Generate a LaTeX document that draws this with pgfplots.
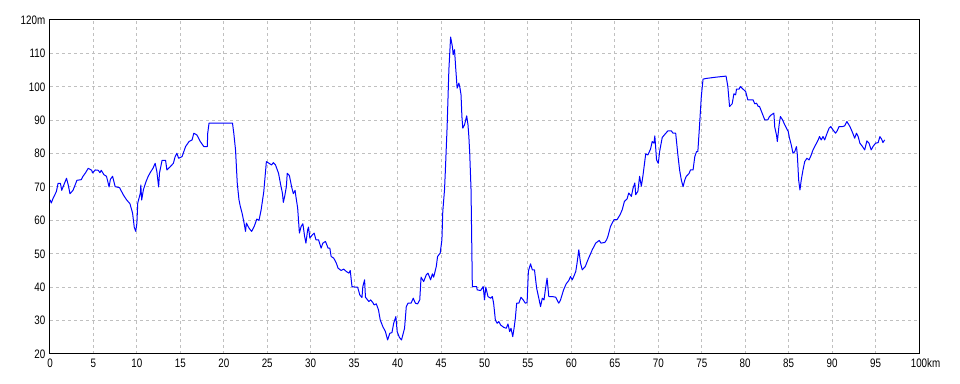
\documentclass[border=0pt]{standalone}
\usepackage{fontspec}
\setmainfont{Liberation Sans}[FakeStretch=0.8]
\usepackage{pgfplots}
\pgfplotsset{compat=1.18}
\definecolor{gridgray}{RGB}{192,192,192}
\begin{document}
\begin{tikzpicture}[x=1pt,y=1pt]
\useasboundingbox (-37.5,-22.5) rectangle (682.5,265.5);
\begin{axis}[
  at={(0,0)}, anchor=south west,
  scale only axis, width=651.75pt, height=250.5pt,
  xmin=0, xmax=100, ymin=20, ymax=120,
  xtick={0,5,...,100}, ytick={20,30,...,120},
  xticklabels={0,5,10,15,20,25,30,35,40,45,50,55,60,65,70,75,80,85,90,95,100\rlap{km}},
  yticklabels={20,30,40,50,60,70,80,90,100,110,120m},
  major tick length=0pt,
  ticklabel style={font=\fontsize{9.2}{10}\selectfont},
  /pgf/number format/assume math mode=true,
  grid=major,
  grid style={gridgray, line width=0.75pt, dash pattern=on 2.25pt off 2.25pt},
  axis line style={black, line width=0.75pt},
]
\addplot[blue, line width=0.75pt, line join=round] coordinates {
(0,66.2)(0.15,65.2)(0.35,66.6)(0.73,68.6)(0.93,71.1)(1.2,71.1)(1.35,69)(1.5,70)(1.7,71.3)(1.9,72.6)(2.1,70.6)(2.3,68)(2.65,69)(3.1,72)(3.6,72.2)(3.8,73.2)(4.1,74.3)(4.4,75.6)(4.8,75)(4.9,74.2)(5.2,75.1)(5.55,75)(5.75,74.3)(5.9,75)(6.2,73.7)(6.5,73.2)(6.7,71.1)(6.8,70)(6.95,72.3)(7.2,73.2)(7.5,70.1)(8,69.8)(8.45,67.6)(8.8,66.2)(9.2,65)(9.5,62.2)(9.7,57.9)(9.87,56.7)(10.0,59.2)(10.1,65.2)(10.4,68.2)(10.45,70.6)(10.55,66.1)(10.75,69.2)(11.05,71.6)(11.3,73.2)(11.6,74.6)(11.85,75.6)(12.1,77.1)(12.3,74.6)(12.5,70)(12.6,74.2)(12.9,78)(13.3,78)(13.45,75.1)(13.85,76.1)(14.2,77.1)(14.4,79.1)(14.6,80.1)(14.8,78.6)(15.2,79.1)(15.6,82.1)(16,83.6)(16.35,84.1)(16.55,86.1)(16.9,85.6)(17.3,83.6)(17.7,82.1)(18.1,82.1)(18.15,86.1)(18.3,89.1)(21.0,89.1)(21.15,86.1)(21.35,81.1)(21.55,71.1)(21.75,66.1)(21.9,64.2)(22.1,62.2)(22.3,59.7)(22.5,56.7)(22.6,59.2)(22.9,57.7)(23.2,56.7)(23.5,58.2)(23.8,60.4)(24.05,60)(24.3,63.2)(24.6,68.6)(24.9,77.6)(25.2,77.1)(25.5,76.6)(25.7,77.3)(25.95,76.6)(26.3,74.1)(26.55,70.6)(26.75,68.1)(26.85,65.4)(27.0,67.1)(27.2,70.1)(27.3,74.1)(27.55,73.4)(27.8,70.1)(28.0,68)(28.2,69)(28.3,67.1)(28.5,63.7)(28.7,56.2)(28.9,58.2)(29.1,59)(29.3,55.2)(29.45,53.2)(29.65,57.2)(29.75,58)(29.9,54.7)(30.2,55.7)(30.4,56.2)(30.6,54.2)(30.9,54.2)(31.2,51.7)(31.4,53.2)(31.7,53.7)(32.0,51.7)(32.2,51.7)(32.35,49.2)(32.65,48.7)(32.95,47.2)(33.15,45.7)(33.5,45)(33.8,45.4)(34.1,44.7)(34.4,44.2)(34.55,45)(34.75,40.2)(35.15,40)(35.4,40)(35.65,37.7)(35.9,36.9)(36.0,40.2)(36.2,42.2)(36.3,37)(36.7,35.7)(36.9,36.2)(37.2,35.2)(37.3,34.7)(37.55,35)(37.8,33.2)(38.0,30.2)(38.3,28.2)(38.6,26.7)(38.85,24.2)(39.1,26.2)(39.35,26.4)(39.55,29.2)(39.8,31.2)(39.95,26.7)(40.2,25)(40.45,24.2)(40.6,25.7)(40.8,27.7)(41.0,34.2)(41.2,35.2)(41.55,35.2)(41.8,36.7)(42.05,35.2)(42.3,35)(42.55,36.2)(42.7,43)(43.0,41.7)(43.3,43.7)(43.5,44.2)(43.8,42.2)(44.0,44)(44.15,43)(44.45,46.2)(44.6,49.2)(44.9,50.2)(45.1,54.2)(45.2,62.7)(45.4,69.2)(45.5,75.1)(45.7,88.1)(45.9,105.1)(46.1,114.9)(46.3,112.1)(46.4,109.6)(46.55,111.1)(46.7,105.1)(46.85,99.6)(47.05,101.1)(47.15,100.1)(47.3,97.6)(47.4,91.1)(47.5,87.6)(47.7,88.6)(47.95,91.3)(48.1,88.6)(48.2,85.1)(48.3,80.1)(48.45,69.2)(48.6,40.2)(49.1,40.2)(49.15,39.2)(49.55,39)(49.85,40.2)(50.0,36.2)(50.15,40)(50.4,37.2)(50.7,36.7)(50.9,37.2)(51.05,35.2)(51.25,30.2)(51.45,29.2)(51.65,29.7)(51.85,28.7)(52.2,28)(52.5,27.7)(52.7,29)(52.9,26.7)(53.05,27.7)(53.25,25.2)(53.4,27.7)(53.55,30.7)(53.7,35.2)(53.95,35.2)(54.2,37)(54.45,36.2)(54.7,35.2)(54.9,35.4)(55.05,44.8)(55.3,47)(55.5,45.2)(55.75,45.2)(56.0,39.7)(56.25,36.7)(56.45,34.2)(56.65,36.7)(56.85,36.2)(57.0,39.2)(57.2,42.7)(57.4,37.2)(57.8,37.2)(58.2,37)(58.35,36.2)(58.55,35.2)(58.75,36.2)(59.1,39.2)(59.4,41)(59.7,42)(59.9,43.2)(60.1,42.2)(60.3,43.4)(60.5,44.7)(60.65,47.2)(60.85,51.2)(61.05,47.2)(61.25,45.2)(61.6,46.2)(61.9,48.2)(62.2,50)(62.4,51.2)(62.6,52.2)(62.8,53.2)(63.2,54)(63.4,53.2)(63.85,53.4)(64.05,54.2)(64.2,55.2)(64.5,58.2)(64.9,60.2)(65.25,60.2)(65.6,61.7)(65.85,63.2)(66.1,65.7)(66.4,66.4)(66.6,68.2)(66.9,67.2)(67.1,69.7)(67.3,71.2)(67.4,67.7)(67.65,68.7)(67.85,73.2)(68.05,70.2)(68.25,73.7)(68.55,79.9)(68.8,79.6)(69.1,81.3)(69.3,83.6)(69.5,83.1)(69.6,85.3)(69.8,78.1)(70.0,77.1)(70.15,80.6)(70.45,84.8)(70.7,85.6)(71.1,86.8)(71.5,86.8)(71.7,86.1)(72.0,86.1)(72.25,79.7)(72.45,75.1)(72.65,72.1)(72.85,70.1)(73.05,72.1)(73.2,73.1)(73.55,74.1)(73.7,75.1)(74.0,75.1)(74.2,79.1)(74.4,80.6)(74.55,80.6)(74.75,88.6)(74.95,97.1)(75.15,102.3)(75.5,102.5)(76.7,102.9)(77.8,103.2)(78.0,100.1)(78.2,94.1)(78.5,94.9)(78.7,97.9)(78.9,97.6)(79.0,99.3)(79.3,99.3)(79.45,100.1)(79.75,99.3)(80.05,98.6)(80.3,96.1)(80.9,96.1)(81.1,94.9)(81.3,95.1)(81.5,94.1)(81.65,94.1)(81.95,92.1)(82.25,90.1)(82.6,90.1)(82.8,91.1)(83.0,91.6)(83.3,92.1)(83.4,87.9)(83.6,85.6)(83.7,83.6)(83.9,88.6)(84.05,91.1)(84.3,90.1)(84.55,88.6)(84.75,87.6)(84.95,86.6)(85.1,84.6)(85.3,82.6)(85.5,80.1)(85.7,80.6)(85.9,82.1)(86.0,79.6)(86.15,72.1)(86.3,69.1)(86.45,72.1)(86.65,75.1)(86.85,77.6)(87.1,78.6)(87.35,78.1)(87.6,79.6)(87.8,81.1)(88.1,82.6)(88.4,84.1)(88.55,85.1)(88.75,84.1)(88.95,85.1)(89.15,84.1)(89.35,85.6)(89.65,87.6)(89.85,88.1)(90.1,87.1)(90.4,86.1)(90.6,86.9)(90.8,88.1)(91.2,88.1)(91.45,88.3)(91.7,89.6)(92.05,88.1)(92.35,86.3)(92.6,84.6)(92.8,86.1)(93.0,85.1)(93.2,83.1)(93.5,82.1)(93.75,81.1)(94.0,83.8)(94.25,83.1)(94.5,81.1)(94.7,82.1)(95.0,83.1)(95.3,83.3)(95.5,85.1)(95.7,84.3)(95.85,83.3)(96.05,84.1)
};
\end{axis}
\end{tikzpicture}
\end{document}
